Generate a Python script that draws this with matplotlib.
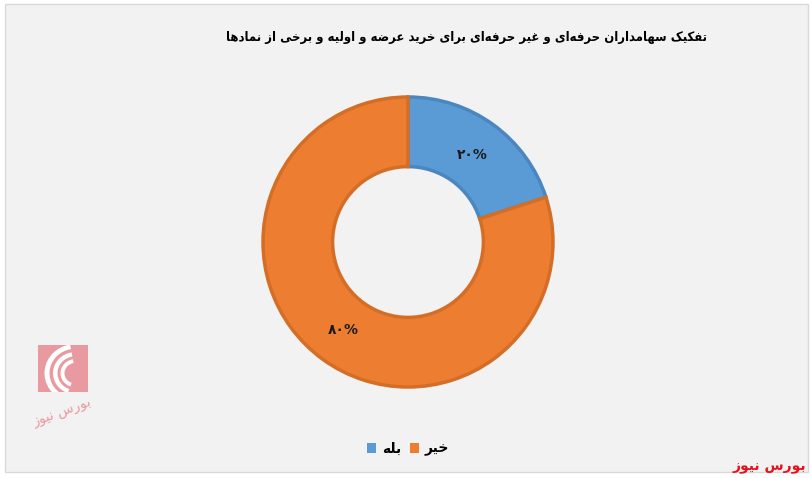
import matplotlib
matplotlib.use("Agg")
import matplotlib.pyplot as plt
from matplotlib.patches import Rectangle, Wedge

# ---- data ----
title = "تفکیک سهامداران حرفه‌ای و غیر حرفه‌ای برای خرید عرضه و اولیه و برخی از نمادها"
categories = ["بله", "خیر"]
values = [20, 80]
value_labels = ["۲۰%", "۸۰%"]
colors = ["#5B9BD5", "#ED7D31"]
edge_colors = ["#4A86C0", "#D46E26"]
brand = "بورس نیوز"

# ---- minimal Arabic/Persian shaping ----
FORMS = {
    'ا': ('\uFE8D', '\uFE8E', None, None),
    'ب': ('\uFE8F', '\uFE90', '\uFE91', '\uFE92'),
    'ت': ('\uFE95', '\uFE96', '\uFE97', '\uFE98'),
    'ح': ('\uFEA1', '\uFEA2', '\uFEA3', '\uFEA4'),
    'خ': ('\uFEA5', '\uFEA6', '\uFEA7', '\uFEA8'),
    'د': ('\uFEA9', '\uFEAA', None, None),
    'ر': ('\uFEAD', '\uFEAE', None, None),
    'ز': ('\uFEAF', '\uFEB0', None, None),
    'س': ('\uFEB1', '\uFEB2', '\uFEB3', '\uFEB4'),
    'ض': ('\uFEBD', '\uFEBE', '\uFEBF', '\uFEC0'),
    'ع': ('\uFEC9', '\uFECA', '\uFECB', '\uFECC'),
    'غ': ('\uFECD', '\uFECE', '\uFECF', '\uFED0'),
    'ف': ('\uFED1', '\uFED2', '\uFED3', '\uFED4'),
    'ل': ('\uFEDD', '\uFEDE', '\uFEDF', '\uFEE0'),
    'م': ('\uFEE1', '\uFEE2', '\uFEE3', '\uFEE4'),
    'ن': ('\uFEE5', '\uFEE6', '\uFEE7', '\uFEE8'),
    'ه': ('\uFEE9', '\uFEEA', '\uFEEB', '\uFEEC'),
    'و': ('\uFEED', '\uFEEE', None, None),
    'ک': ('\uFB8E', '\uFB8F', '\uFB90', '\uFB91'),
    'ی': ('\uFBFC', '\uFBFD', '\uFBFE', '\uFBFF'),
}


def shape(text):
    chars = list(text)
    out = []
    n = len(chars)
    for i, c in enumerate(chars):
        if c == '\u200c':
            continue
        if c not in FORMS:
            out.append(c)
            continue
        prev = chars[i - 1] if i > 0 else None
        nxt = chars[i + 1] if i + 1 < n else None
        join_prev = prev in FORMS and FORMS[prev][2] is not None
        join_next = nxt in FORMS and FORMS[c][2] is not None
        iso, fin, ini, med = FORMS[c]
        if join_prev and join_next:
            g = med
        elif join_prev:
            g = fin
        elif join_next:
            g = ini
        else:
            g = iso
        out.append(g)
    return ''.join(reversed(out))


FONT = ['DejaVu Sans']
plt.rcParams['font.family'] = FONT

fig = plt.figure(figsize=(8.11, 4.78), dpi=100)
fig.patch.set_facecolor('white')
W, H = 811, 478

# chart background box
bg = Rectangle((5 / W, 1 - 472 / H), 803 / W, 468 / H, transform=fig.transFigure,
               facecolor='#F2F2F2', edgecolor='#D9D9D9', linewidth=1, zorder=-5)
fig.patches.append(bg)

# title
fig.text(466 / W, 1 - 37 / H, shape(title), ha='center', va='center',
         fontsize=9.4, fontweight='bold', fontstretch='condensed', color='#000000')

# donut
cx, cy, R = 408, 242, 145
ax = fig.add_axes([(cx - R) / W, (H - cy - R) / H, 2 * R / W, 2 * R / H])
wedges, _ = ax.pie(values, colors=colors, startangle=90, counterclock=False,
                   radius=1.0, wedgeprops=dict(width=0.48, linewidth=2.5))
for w, ec in zip(wedges, edge_colors):
    w.set_edgecolor(ec)
ax.set_xlim(-1.0, 1.0)
ax.set_ylim(-1.0, 1.0)
ax.set_aspect('equal')
ax.axis('off')

label_pos = [(472, 155), (343, 330)]
for (px, py), lab in zip(label_pos, value_labels):
    fig.text(px / W, 1 - py / H, lab, ha='center', va='center', fontsize=10,
             fontweight='bold', color='#1a1a1a')

# legend
handles = [Rectangle((0, 0), 1, 1, facecolor=c) for c in colors]
leg = fig.legend(handles, [shape(c) for c in categories], loc='center',
                 bbox_to_anchor=(408 / W, 1 - 449 / H), ncol=2, frameon=False,
                 handlelength=0.7, handleheight=0.7, handletextpad=0.4,
                 columnspacing=0.6, prop=dict(size=10, weight='bold'))

# brand text
fig.text(806 / W, 1 - 467 / H, shape(brand), ha='right', va='center',
         fontsize=10, fontweight='bold', color='#E8101A')

# watermark logo
lax = fig.add_axes([38 / W, 1 - 392 / H, 50 / W, 47 / H])
lax.set_xlim(0, 1)
lax.set_ylim(0, 1)
lax.axis('off')
lax.add_patch(Rectangle((0, 0), 1, 1, facecolor='#E99AA0', edgecolor='none'))
for r, wdt in [(0.62, 0.1), (0.45, 0.09), (0.3, 0.08)]:
    lax.add_patch(Wedge((0.75, 0.4), r, 100, 250, width=wdt, facecolor='white',
                        edgecolor='none', clip_on=True))
fig.text(62 / W, 1 - 412 / H, shape("بورس نیوز"), ha='center', va='center',
         fontsize=10, color='#E99AA0', rotation=20)

fig.savefig('out.png', dpi=100, facecolor=fig.get_facecolor())
